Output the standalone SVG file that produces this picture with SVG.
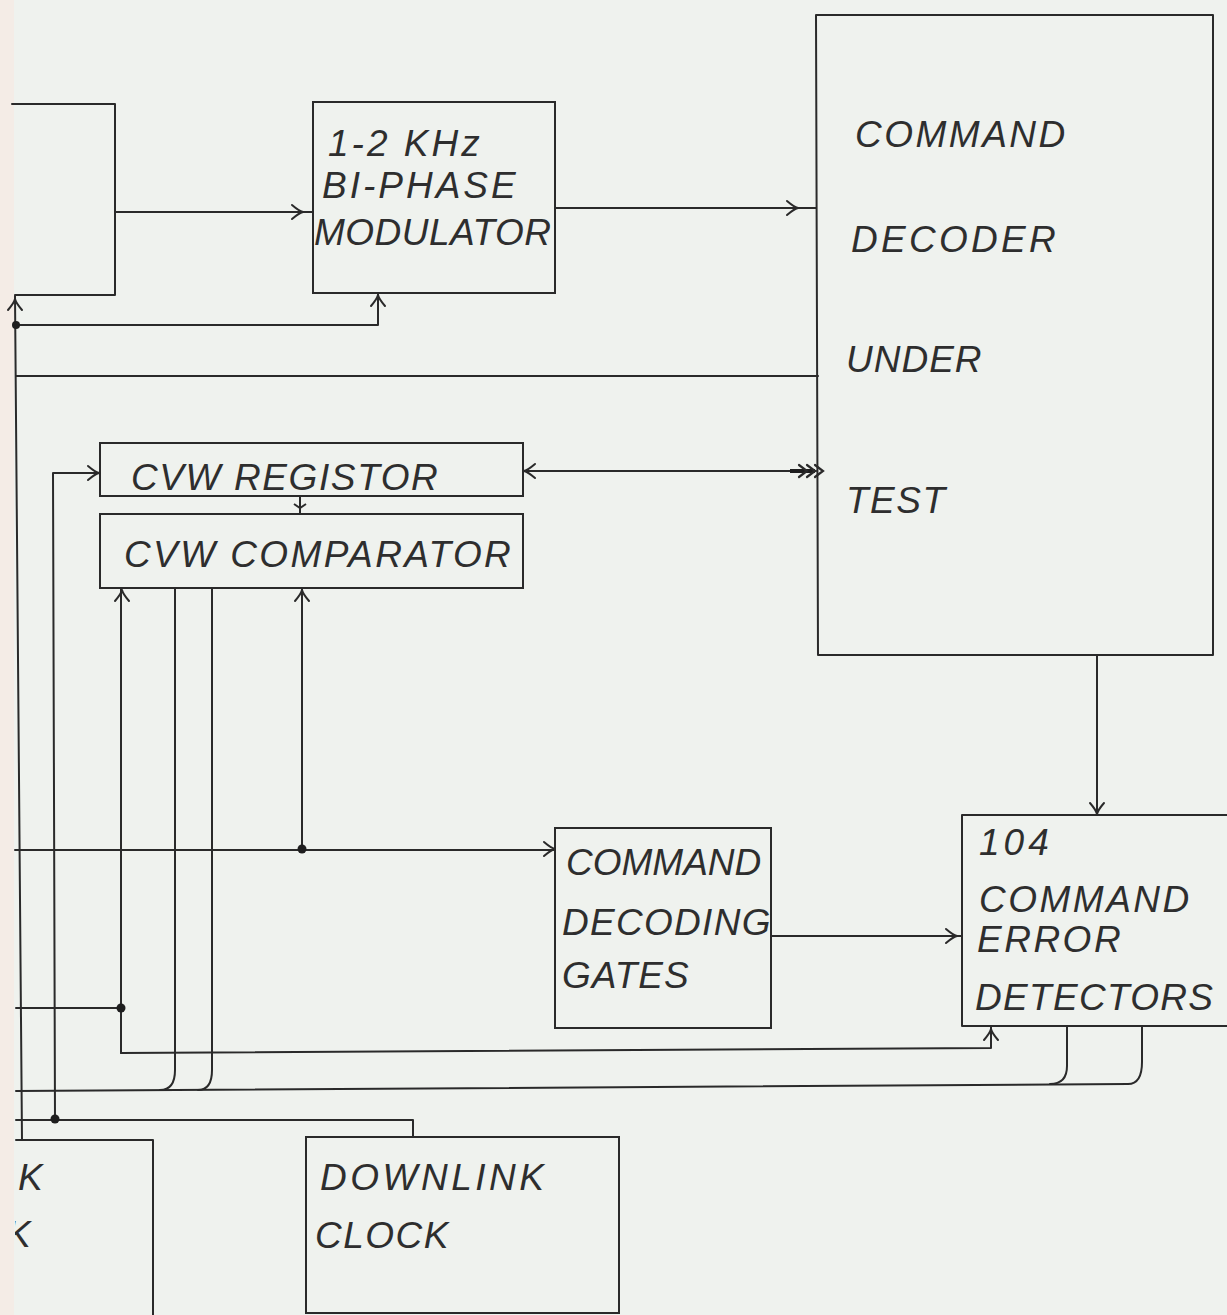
<svg xmlns="http://www.w3.org/2000/svg" width="1227" height="1315" viewBox="0 0 1227 1315">
<style>
.ln{fill:none;stroke:#2a2a2a;stroke-width:2;stroke-linecap:round;stroke-linejoin:round}
.bx{fill:none;stroke:#2a2a2a;stroke-width:2}
.t{font-family:"Liberation Sans",Arial,sans-serif;font-style:italic;font-size:37px;fill:#2e2e2e}
.dot{fill:#1e1e1e}
</style>
<defs>
<path id="ah" d="M-11,-7 Q-4,-1 0,0 M-11,7 Q-4,1 0,0" fill="none" stroke="#2a2a2a" stroke-width="2" stroke-linecap="round"/>
<path id="fe" d="M0,-6 L-8,0 L0,6" fill="none" stroke="#2a2a2a" stroke-width="2.2" stroke-linecap="round"/>
<clipPath id="edge"><rect x="15" y="1200" width="40" height="60"/></clipPath>
</defs>
<rect x="0" y="0" width="1227" height="1315" fill="#eff2ee"/>
<rect x="0" y="0" width="14" height="1315" fill="#f4ece6"/>

<g id="left-box">
<path class="ln" d="M12,104 H115 V295 H15"/>
</g>

<g id="modulator">
<rect class="bx" x="313" y="102" width="242" height="191"/>
<text class="t" x="328" y="156" font-size="36" letter-spacing="3">1-2 KHz</text>
<text class="t" x="322" y="198" font-size="36" letter-spacing="3">BI-PHASE</text>
<text class="t" x="314" y="245" font-size="36" letter-spacing="0.5">MODULATOR</text>
</g>

<g id="decoder">
<path class="ln" d="M816,15 H1213 V655 H818 Z"/>
<text class="t" x="855" y="147" font-size="38" letter-spacing="2.5">COMMAND</text>
<text class="t" x="851" y="252" font-size="38" letter-spacing="3.3">DECODER</text>
<text class="t" x="846" y="372" font-size="38" letter-spacing="1">UNDER</text>
<text class="t" x="846" y="513" font-size="38" letter-spacing="1.5">TEST</text>
</g>

<g id="cvw-register">
<rect class="bx" x="100" y="443" width="423" height="53"/>
<text class="t" x="131" y="490" font-size="38" letter-spacing="1.6">CVW REGISTOR</text>
</g>

<g id="cvw-comparator">
<rect class="bx" x="100" y="514" width="423" height="74"/>
<text class="t" x="124" y="567" font-size="38" letter-spacing="2.4">CVW COMPARATOR</text>
</g>

<g id="decoding-gates">
<rect class="bx" x="555" y="828" width="216" height="200"/>
<text class="t" x="566" y="875" font-size="36">COMMAND</text>
<text class="t" x="562" y="935" font-size="36" letter-spacing="1.3">DECODING</text>
<text class="t" x="562" y="988" font-size="36" letter-spacing="1">GATES</text>
</g>

<g id="error-detectors">
<path class="ln" d="M1240,815 H962 V1026 H1240"/>
<text class="t" x="979" y="855" font-size="32" letter-spacing="4">104</text>
<text class="t" x="979" y="912" font-size="38" letter-spacing="2.5">COMMAND</text>
<text class="t" x="977" y="952" font-size="38" letter-spacing="2.5">ERROR</text>
<text class="t" x="975" y="1010" font-size="38" letter-spacing="1.3">DETECTORS</text>
</g>

<g id="uplink-clock">
<path class="ln" d="M16,1140 H153 V1320"/>
<text class="t" x="18" y="1190" font-size="36">K</text>
<text class="t" x="6" y="1247" font-size="36" clip-path="url(#edge)">K</text>
</g>

<g id="downlink-clock">
<rect class="bx" x="306" y="1137" width="313" height="176"/>
<text class="t" x="320" y="1190" font-size="36" letter-spacing="3.5">DOWNLINK</text>
<text class="t" x="315" y="1248" font-size="36" letter-spacing="1.5">CLOCK</text>
</g>

<g id="connectors">
<path class="ln" d="M115,212 H313"/>
<use href="#ah" transform="translate(303,212)"/>
<path class="ln" d="M555,208 H816"/>
<use href="#ah" transform="translate(798,208)"/>
<path class="ln" d="M15,296 L22,1140"/>
<use href="#ah" transform="translate(15,299) rotate(-90)"/>
<path class="ln" d="M16,325 H378 V293"/>
<use href="#ah" transform="translate(378,295) rotate(-90)"/>
<circle class="dot" cx="16" cy="325" r="4"/>
<path class="ln" d="M16,376 H818"/>
<path class="ln" d="M523,471 H816"/>
<path d="M790,471 H815" stroke="#1e1e1e" stroke-width="4"/>
<use href="#fe" transform="translate(799,471) rotate(180)"/>
<use href="#fe" transform="translate(807,471) rotate(180)"/>
<use href="#fe" transform="translate(815,471) rotate(180)"/>
<use href="#ah" transform="translate(524,471) rotate(180)"/>
<path class="ln" d="M55,1119 L53,473 H100"/>
<use href="#ah" transform="translate(99,473)"/>
<path class="ln" d="M300,496 V514"/>
<path d="M-6,-4 L0,0 L6,-4" fill="none" stroke="#2a2a2a" stroke-width="2" transform="translate(300,508)"/>
<path class="ln" d="M121,1053 V588"/>
<use href="#ah" transform="translate(122,590) rotate(-90)"/>
<path class="ln" d="M302,850 V588"/>
<use href="#ah" transform="translate(302,590) rotate(-90)"/>
<path class="ln" d="M175,588 V1070 Q175,1090 160,1090"/>
<path class="ln" d="M212,588 V1070 Q212,1090 198,1090"/>
<path class="ln" d="M15,850 H555"/>
<circle class="dot" cx="302" cy="849" r="4.5"/>
<use href="#ah" transform="translate(555,849)"/>
<path class="ln" d="M771,936 H962"/>
<use href="#ah" transform="translate(957,936)"/>
<path class="ln" d="M1097,655 V815"/>
<use href="#ah" transform="translate(1097,814) rotate(90)"/>
<path class="ln" d="M16,1008 H121"/>
<circle class="dot" cx="121" cy="1008" r="4.5"/>
<path class="ln" d="M121,1053 L991,1048 V1026"/>
<use href="#ah" transform="translate(991,1029) rotate(-90)"/>
<path class="ln" d="M16,1091 L1128,1084"/>
<path class="ln" d="M1067,1026 V1066 Q1067,1084 1050,1084"/>
<path class="ln" d="M1142,1026 V1062 Q1142,1084 1128,1084"/>
<path class="ln" d="M16,1120 H413 V1137"/>
<circle class="dot" cx="55" cy="1119" r="4.5"/>
</g>
</svg>
